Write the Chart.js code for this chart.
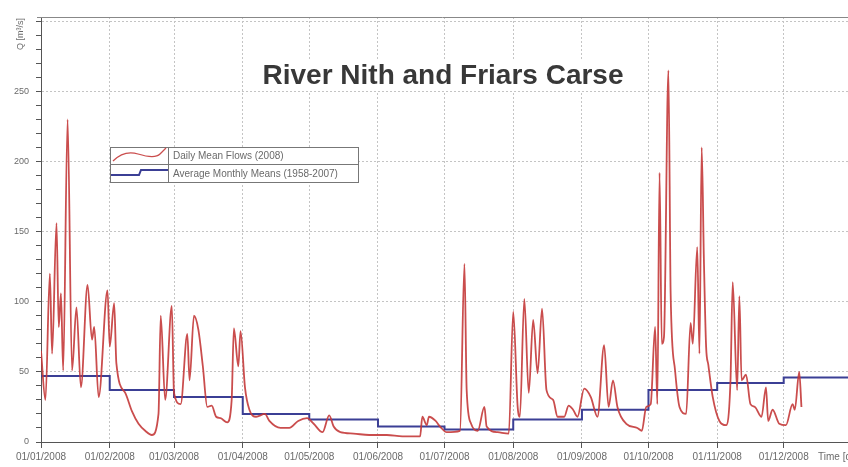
<!DOCTYPE html>
<html>
<head>
<meta charset="utf-8">
<script src="https://cdn.jsdelivr.net/npm/chart.js@4.4.0/dist/chart.umd.min.js"></script>
<style>
  html, body { margin: 0; padding: 0; background: #fff; }
  #contenedor { width: 848px; height: 467px; }
</style>
</head>
<body>
<div id="contenedor"><canvas id="grafico" width="848" height="467"></canvas></div>
<script>
// daily mean flows 2008 (day of year, m3/s)
const flowDays = [0,2,4,5,7,8,9,10,12,14,16,18,21,23,24,26,30,31,33,34,38,41,44,47,50,53,54,56,59,60,63,66,67,69,71,73,75,77,79,81,84,86,87,89,90,92,94,97,101,103,108,112,116,120,123,127,130,132,135,141,148,156,163,171,172,174,175,178,180,183,189,191,192,194,197,200,201,206,211,213,215,216,218,220,222,224,226,228,231,233,236,238,240,242,245,248,251,254,256,258,260,264,269,271,273,275,277,278,279,280,281,283,284,286,288,291,293,294,296,297,298,299,300,301,303,306,309,311,312,314,315,316,318,320,322,325,327,328,330,333,336,339,340,342,343];
const flowValues = [65,30,120,63,156,82,106,51,230,51,96,39,112,73,82,32,108,68,99,56,35,22,13,8,5,20,90,30,97,35,27,77,44,90,80,54,25,26,18,17,14,30,81,54,79,39,23,18,20,15,10,10,15,17,13,7,19,11,7,6,5,5,4,4,18,12,18,15,11,7,8,127,37,13,8,25,11,7,6,93,25,18,102,35,87,49,95,37,30,18,18,26,23,18,38,32,18,69,25,44,25,13,10,8,25,27,82,27,192,70,75,265,106,51,25,20,85,70,139,63,210,130,68,55,32,15,12,44,114,37,104,44,48,27,25,18,39,15,23,13,12,27,23,50,25];

// average monthly means 1958-2007
const monthStartDays = [0,31,60,91,121,152,182,213,244,274,305,335];
const monthMeans = [47,37,32,20,16,11,9,16,23,37,42,46];
const monthLabels = ['01/01/2008','01/02/2008','01/03/2008','01/04/2008','01/05/2008','01/06/2008','01/07/2008','01/08/2008','01/09/2008','01/10/2008','01/11/2008','01/12/2008'];

const titulo = 'River Nith and Friars Carse';
const nombresSeries = ['Daily Mean Flows (2008)', 'Average Monthly Means (1958-2007)'];

const rojo = 'rgba(196,58,58,0.9)';
const azul = '#3b3f95';
const gris = '#6a6a6a';

( function() {

    const extras = {
        id: 'extras',
        afterDatasetsDraw(chart) {
            const ctx = chart.ctx;
            const area = chart.chartArea;
            ctx.save();

            // top border
            ctx.strokeStyle = '#888';
            ctx.lineWidth = 1;
            ctx.beginPath();
            ctx.moveTo(area.left - 4, area.top + 0.5);
            ctx.lineTo(area.right, area.top + 0.5);
            ctx.stroke();

            // title
            ctx.font = 'bold 28px "Liberation Sans", Arial, sans-serif';
            const ancho = ctx.measureText(titulo).width;
            ctx.fillStyle = '#fff';
            ctx.fillRect(443 - ancho / 2 - 4, 61, ancho + 8, 30);
            ctx.fillStyle = '#383838';
            ctx.textAlign = 'center';
            ctx.textBaseline = 'middle';
            ctx.fillText(titulo, 443, 76);

            // legend box
            const lx = 110, ly = 147, lw = 248, lh = 35;
            ctx.fillStyle = '#fff';
            ctx.fillRect(lx, ly, lw, lh);
            ctx.strokeStyle = '#777';
            ctx.strokeRect(lx + 0.5, ly + 0.5, lw, lh);
            ctx.beginPath();
            ctx.moveTo(lx, ly + 17.5); ctx.lineTo(lx + lw, ly + 17.5);
            ctx.moveTo(168.5, ly); ctx.lineTo(168.5, ly + lh);
            ctx.stroke();

            ctx.strokeStyle = rojo;
            ctx.lineWidth = 1.3;
            ctx.beginPath();
            ctx.moveTo(113, 161);
            ctx.bezierCurveTo(120, 154, 128, 151, 138, 154);
            ctx.bezierCurveTo(148, 157, 156, 158, 160, 154);
            ctx.lineTo(166, 148);
            ctx.stroke();

            ctx.strokeStyle = azul;
            ctx.lineWidth = 2;
            ctx.beginPath();
            ctx.moveTo(111, 175); ctx.lineTo(139, 175);
            ctx.lineTo(141, 170); ctx.lineTo(168, 170);
            ctx.stroke();

            ctx.font = '10px "Liberation Sans", Arial, sans-serif';
            ctx.fillStyle = gris;
            ctx.textAlign = 'left';
            ctx.fillText(nombresSeries[0], 173, 156);
            ctx.fillText(nombresSeries[1], 173, 174);

            // axis titles
            ctx.fillText('Time [d]', 818, 457);
            ctx.translate(21, 34);
            ctx.rotate(-Math.PI / 2);
            ctx.textAlign = 'center';
            ctx.font = '9px "Liberation Sans", Arial, sans-serif';
            ctx.fillText('Q [m\u00b3/s]', 0, 0);

            ctx.restore();
        }
    };

    document.addEventListener("DOMContentLoaded", () => {

        const puntosFlujo = flowDays.map((d, i) => ({ x: d, y: flowValues[i] }));
        const puntosMedias = monthStartDays.map((d, i) => ({ x: d, y: monthMeans[i] }));
        puntosMedias.push({ x: 364, y: monthMeans[monthMeans.length - 1] });

        new Chart(
          document.getElementById('grafico'),
          {
            type: 'line',
            data: {
              datasets: [
                {
                  label: nombresSeries[0],
                  data: puntosFlujo,
                  borderColor: rojo,
                  borderWidth: 1.8,
                  pointRadius: 0,
                  cubicInterpolationMode: 'monotone',
                  order: 1
                },
                {
                  label: nombresSeries[1],
                  data: puntosMedias,
                  borderColor: azul,
                  borderWidth: 2,
                  pointRadius: 0,
                  stepped: true,
                  order: 2
                }
              ]
            },
            options: {
              responsive: false,
              animation: false,
              devicePixelRatio: 1,
              layout: { padding: { top: 17, right: 0, left: 0, bottom: 0 } },
              plugins: {
                legend: { display: false },
                tooltip: { enabled: false }
              },
              scales: {
                x: {
                  type: 'linear',
                  min: 0,
                  max: 364,
                  afterBuildTicks: scale => {
                    scale.ticks = monthStartDays.map(d => ({ value: d }));
                  },
                  afterFit: scale => { scale.height = 25; },
                  ticks: {
                    autoSkip: false,
                    maxRotation: 0,
                    padding: 3,
                    color: gris,
                    font: { family: '"Liberation Sans", Arial, sans-serif', size: 10 },
                    callback: (value, index) => monthLabels[index]
                  },
                  grid: {
                    color: '#c4c4c4',
                    tickColor: '#555',
                    tickLength: 6
                  },
                  border: { color: '#555', dash: [2, 2] }
                },
                y: {
                  min: 0,
                  max: 303,
                  afterBuildTicks: scale => {
                    const marcas = [];
                    for (let v = 0; v <= 300; v += 10) marcas.push({ value: v });
                    scale.ticks = marcas;
                  },
                  afterFit: scale => { scale.width = 41; },
                  ticks: {
                    autoSkip: false,
                    padding: 7,
                    color: gris,
                    font: { family: '"Liberation Sans", Arial, sans-serif', size: 9 },
                    callback: value => (value % 50 === 0 && value <= 250) ? value : ''
                  },
                  grid: {
                    color: c => (c.tick && c.tick.value % 50 === 0 && c.tick.value > 0) ? '#c4c4c4' : 'rgba(0,0,0,0)',
                    tickColor: '#555',
                    tickLength: 5
                  },
                  border: { color: '#555', dash: [2, 2] }
                }
              }
            },
            plugins: [extras]
          }
        );
    });
})();
</script>
</body>
</html>
